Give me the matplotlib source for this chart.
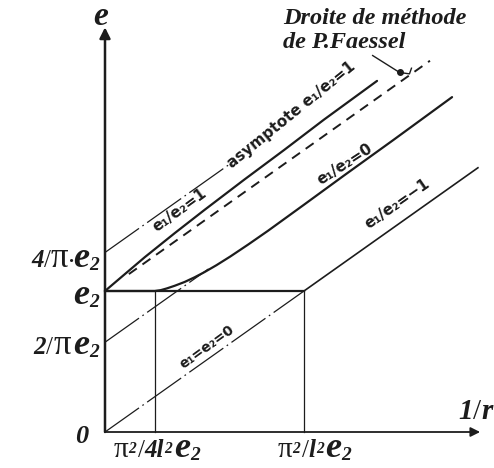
import matplotlib
matplotlib.use("Agg")
import numpy as np
import matplotlib.pyplot as plt
from matplotlib.offsetbox import TextArea, HPacker, AnnotationBbox

plt.rcParams["mathtext.fontset"] = "custom"
plt.rcParams["mathtext.rm"] = "Liberation Serif:bold:italic"
plt.rcParams["mathtext.it"] = "Liberation Serif:bold:italic"
plt.rcParams["mathtext.sf"] = "Liberation Serif"
plt.rcParams["lines.scale_dashes"] = False

INK = "#1c1c1c"

# abscissa 1/r in units of pi^2/(l^2 e2), ordinate e in units of e2
x_ticks = [0.25, 1.0]
y_ticks = [2 / np.pi, 1.0, 4 / np.pi]

# plateau e = e2 up to 1/r = pi^2/(l^2 e2)
plateau_x = [0.0, 1.0]
plateau_y = [1.0, 1.0]

# e1/e2 = -1 : straight branch above the plateau, dash-dot extension to 0
branch_m1_x = [1.0, 1.874]
branch_m1_y = [1.0, 1.874]
ext_m1_x = [0.0, 1.0]
ext_m1_y = [0.0, 1.0]

# e1/e2 = 0 : curve and its dash-dot asymptote from 2/pi e2
curve_0_x = [0.0, 0.25, 0.28, 0.31, 0.35, 0.40, 0.45, 0.50, 0.56, 0.63, 0.72,
             0.82, 1.00, 1.20, 1.45, 1.744]
curve_0_y = [1.0, 1.0, 1.006, 1.018, 1.037, 1.064, 1.097, 1.134, 1.183, 1.245,
             1.33, 1.428, 1.612, 1.818, 2.072, 2.375]
asym_0_x = [0.0, 0.52]
asym_0_y = [2 / np.pi, 0.52 + 2 / np.pi]

# e1/e2 = 1 : curve and its dash-dot asymptote from 4/pi e2
curve_1_x = [0.0, 0.1, 0.2, 0.35, 0.5, 0.7, 0.9, 1.1, 1.367]
curve_1_y = [1.0, 1.12, 1.24, 1.41, 1.575, 1.79, 2.0, 2.215, 2.49]
asym_1_x = [0.0, 0.62]
asym_1_y = [4 / np.pi, 0.62 + 4 / np.pi]

# Faessel method line e = e2 + 1/r
faessel_x = [0.12, 1.633]
faessel_y = [1.12, 2.633]

# vertical guides at the two abscissa marks
guide_x = [0.25, 1.0]

fig = plt.figure(figsize=(4.94, 4.68), dpi=100)
ax = fig.add_axes([0, 0, 1, 1])
ax.set_xlim(-105 / 199, 389 / 199)
ax.set_ylim(-36 / 141, 432 / 141)
ax.axis("off")

DASHDOT = (0, (30, 3, 1.2, 3))
thick = 1.6
thin = 0.9

# axes with arrows
ax.annotate("", xy=(0, 2.87), xytext=(0, 0),
            arrowprops=dict(arrowstyle="-|>", lw=1.8, color=INK,
                            mutation_scale=16, shrinkA=0, shrinkB=0))
ax.annotate("", xy=(1.885, 0), xytext=(0, 0),
            arrowprops=dict(arrowstyle="-|>", lw=1.3, color=INK,
                            mutation_scale=14, shrinkA=0, shrinkB=0))

for gx in guide_x:
    ax.plot([gx, gx], [0, 1.0], color=INK, lw=thin)
ax.plot(plateau_x, plateau_y, color=INK, lw=thick)

ax.plot(ext_m1_x, ext_m1_y, color=INK, lw=thin, ls=DASHDOT)
ax.plot(branch_m1_x, branch_m1_y, color=INK, lw=1.2)

ax.plot(asym_0_x, asym_0_y, color=INK, lw=thin, ls=DASHDOT)
ax.plot(curve_0_x, curve_0_y, color=INK, lw=thick, solid_capstyle="round")

ax.plot(asym_1_x, asym_1_y, color=INK, lw=thin, ls=DASHDOT)
ax.plot(curve_1_x, curve_1_y, color=INK, lw=thick, solid_capstyle="round")

ax.plot(faessel_x, faessel_y, color=INK, lw=1.4, ls=(0, (7, 5)))

# pointer from the caption to the method line
px = 1.48
ax.plot([px - 0.135, px], [px + 1 + 0.19, px + 1 + 0.07], color=INK, lw=1.0)
ax.plot([px], [px + 1 + 0.07], "o", color=INK, ms=4)
ax.plot([px, px + 0.05, px + 0.06], [px + 1 + 0.07, px + 1 + 0.06, px + 1 + 0.1],
        color=INK, lw=1.0)

SERIF = "Liberation Serif"


def rich(xy, parts, align, offset=(0, 0)):
    kids = []
    for s, size, kind in parts:
        props = dict(fontsize=size, color=INK, fontfamily=SERIF)
        if kind == "bi":
            props.update(fontweight="bold", fontstyle="italic")
        else:
            props.update(fontweight="normal", fontstyle="normal")
        kids.append(TextArea(s, textprops=props))
    pack = HPacker(children=kids, align="baseline", pad=0, sep=0)
    ab = AnnotationBbox(pack, xy, xycoords="data", xybox=offset,
                        boxcoords="offset points", box_alignment=align,
                        frameon=False, pad=0)
    ax.add_artist(ab)


SUB2 = (r"${}_{2}$", 20, "bi")
SUP2 = (r"${}^{2}$", 16, "bi")
PI = ("π", 25, "up")
E = ("e", 26, "bi")

# ordinate marks
rich((0, y_ticks[2]), [("4", 18, "bi"), ("/", 18, "up"), PI, ("·", 14, "bi"), E, SUB2],
     (1, 0.5), (-3, -4))
rich((0, y_ticks[1]), [E, SUB2], (1, 0.5), (-3, -3))
rich((0, y_ticks[0]), [("2", 18, "bi"), ("/", 18, "up"), PI, (" ", 8, "bi"), E, SUB2],
     (1, 0.5), (-3, -2))

# abscissa marks
rich((x_ticks[0], 0), [("π", 21, "up"), SUP2, ("/", 18, "up"), ("4l", 18, "bi"),
                       SUP2, E, SUB2], (0.5, 0.5), (2, -12))
rich((x_ticks[1], 0), [("π", 21, "up"), SUP2, ("/", 18, "up"), ("l", 18, "bi"),
                       SUP2, E, SUB2], (0.5, 0.5), (8, -12))

# axis names and origin
rich((0, 2.95), [("e", 24, "bi")], (0.5, 0.5), (-3, 0))
rich((1.885, 0), [("1", 21, "bi"), ("/", 21, "up"), ("r", 21, "bi")], (1, 0), (9, 5))
rich((0, 0), [("0", 19, "bi")], (1, 0.5), (-12, -3))

ax.text(0.895, 3.005, "Droite de méthode\nde P.Faessel", fontsize=17.5,
        fontfamily=SERIF, fontweight="bold", fontstyle="italic", color=INK,
        ha="left", va="top", linespacing=1.2)

# curve labels written along the lines
LBL = dict(fontsize=11, fontfamily="DejaVu Sans", fontweight="bold", color=INK,
           ha="center", va="center", rotation_mode="anchor")
ax.text(0.375, 1.575, "e₁/e₂=1", rotation=36, **LBL)
ax.text(0.935, 2.25, "asymptote e₁/e₂=1", rotation=39, **LBL)
ax.text(1.206, 1.90, "e₁/e₂=0", rotation=33, **LBL)
ax.text(1.47, 1.62, "e₁/e₂=−1", rotation=35, **LBL)
LBL["fontsize"] = 10
ax.text(0.513, 0.60, "e₁=e₂=0", rotation=36, **LBL)

fig.savefig("out.png", dpi=100)
